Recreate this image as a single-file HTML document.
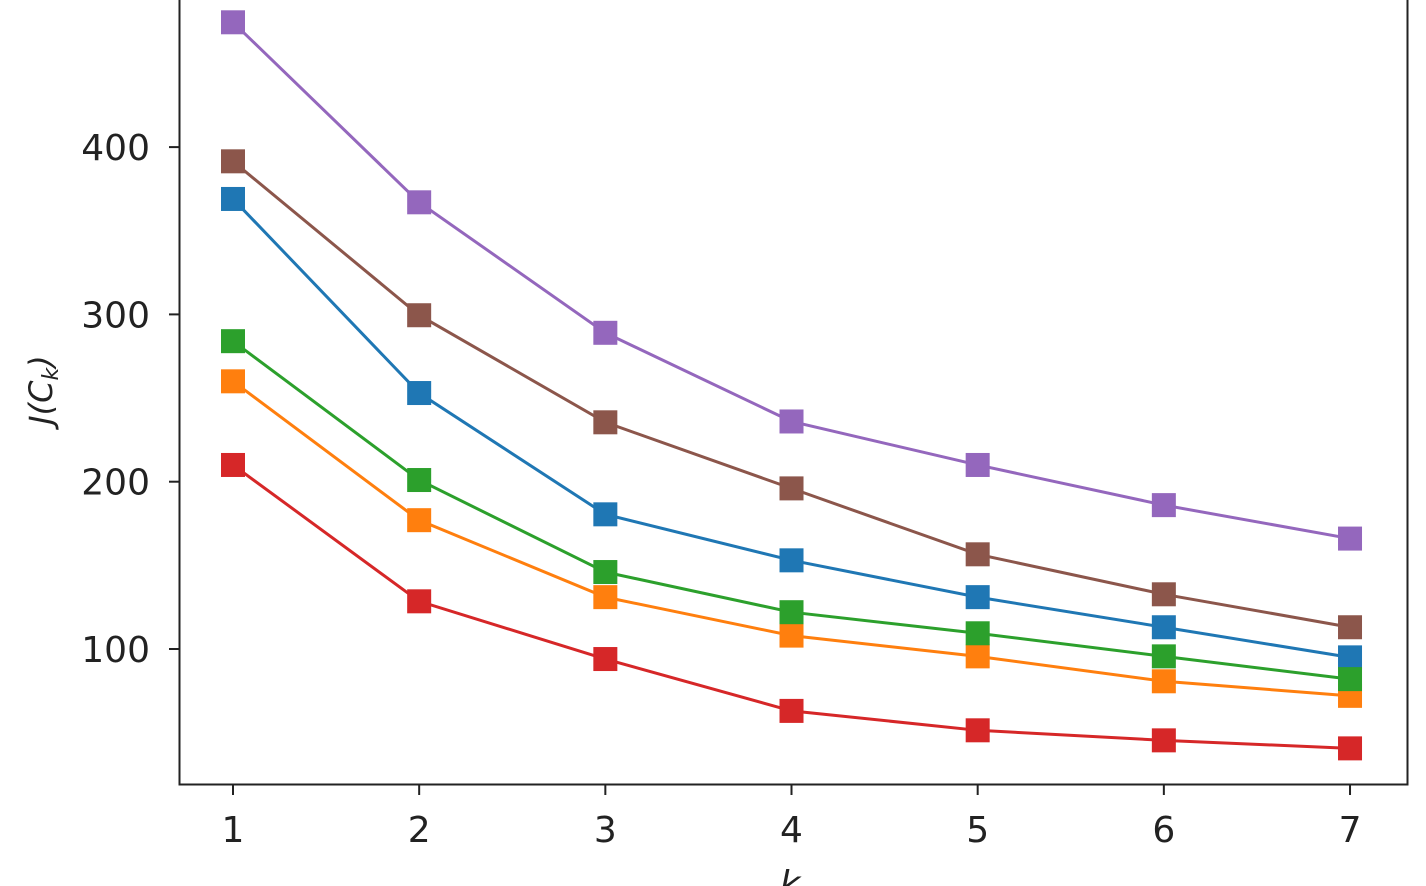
<!DOCTYPE html>
<html><head><meta charset="utf-8"><style>
html,body{margin:0;padding:0;background:#fff;width:1426px;height:886px;overflow:hidden}
svg text{font-family:"DejaVu Sans","Liberation Sans",sans-serif;fill:#222}
</style></head><body>
<svg id="chart" width="1426" height="886" xmlns="http://www.w3.org/2000/svg">
<g id="plot"></g>
</svg>
<script>
const ks = [1,2,3,4,5,6,7];
const yTicks = [100,200,300,400];
const seriesNames = ["blue","orange","green","red","purple","brown"];
const seriesColors = ["#1f77b4","#ff7f0e","#2ca02c","#d62728","#9467bd","#8c564b"];
const blueVals = [369,253,180.5,153,131,113,95];
const orangeVals = [260,177,131,108,95.6,80.7,72];
const greenVals = [284,201,146,122,109.4,95.6,82];
const redVals = [210,128.5,94,63,51.4,45.4,40.6];
const purpleVals = [474.6,367,289,236,210,186,166];
const brownVals = [391.5,299.5,235.5,196,156.6,132.7,113];
const allVals = [blueVals,orangeVals,greenVals,redVals,purpleVals,brownVals];

const NS="http://www.w3.org/2000/svg";
const xS = k => 233 + (k-1)*186.17;
const yS = v => 816.3 - v*1.673;
const svg=document.getElementById('chart');
const g=document.getElementById('plot');
function mk(t,a){const e=document.createElementNS(NS,t);for(const k in a)e.setAttribute(k,a[k]);return e;}

// spines
const sp=mk('path',{d:'M179.5,0 V784.5 H1407.5 V0',fill:'none',stroke:'#222','stroke-width':2});


svg.appendChild(sp);

ks.forEach(k=>{
  const x=xS(k);
  const t=mk('line',{x1:x,x2:x,y1:784,y2:795,stroke:'#222','stroke-width':2});
  
  
  svg.appendChild(t);
  const l=mk('text',{x:x,y:842,'text-anchor':'middle','font-size':36});
  l.textContent=k;
  
  
  svg.appendChild(l);
});
yTicks.forEach(v=>{
  const y=yS(v);
  const t=mk('line',{x1:169,x2:179,y1:y,y2:y,stroke:'#222','stroke-width':2});
  
  
  svg.appendChild(t);
  const l=mk('text',{x:150,y:y+13,'text-anchor':'end','font-size':36});
  l.textContent=v;
  
  
  svg.appendChild(l);
});
const xl=mk('text',{x:790,y:896,'text-anchor':'middle','font-size':36,'font-style':'italic'});
xl.textContent='k';


svg.appendChild(xl);
const yl=mk('text',{x:0,y:0,'text-anchor':'middle','font-size':32,'font-style':'italic',transform:'translate(52,390) rotate(-90)'});
yl.innerHTML='J(C<tspan font-size="22" dy="6">k</tspan><tspan dy="-6">)</tspan>';


svg.appendChild(yl);

allVals.forEach((vals,i)=>{
  const c=seriesColors[i];
  const sg=mk('g',{});
  
  
  const pts=vals.map((v,j)=>xS(ks[j])+','+yS(v)).join(' ');
  const pl=mk('polyline',{points:pts,fill:'none',stroke:c,'stroke-width':3});
  
  
  sg.appendChild(pl);
  vals.forEach((v,j)=>{
    const r=mk('rect',{x:xS(ks[j])-12,y:yS(v)-12,width:24,height:24,fill:c});
    
    
    sg.appendChild(r);
  });
  g.appendChild(sg);
});
</script>
</body></html>
